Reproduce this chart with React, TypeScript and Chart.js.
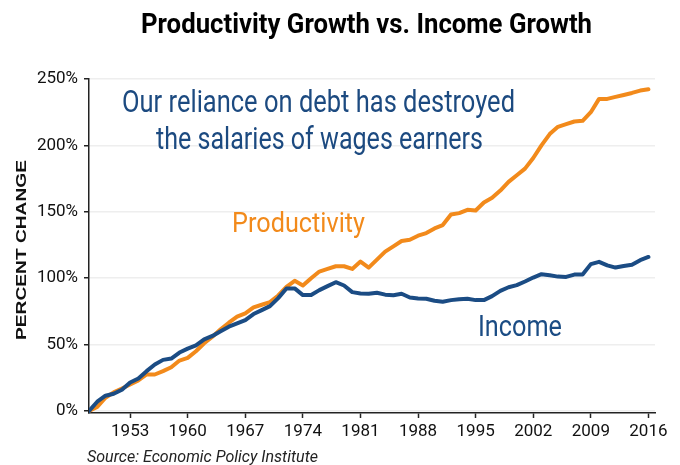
import React, { useEffect, useRef } from "react";
import { Chart, registerables } from "chart.js";

Chart.register(...registerables);

const years = [
  1948, 1949, 1950, 1951, 1952, 1953, 1954, 1955, 1956, 1957, 1958, 1959,
  1960, 1961, 1962, 1963, 1964, 1965, 1966, 1967, 1968, 1969, 1970, 1971,
  1972, 1973, 1974, 1975, 1976, 1977, 1978, 1979, 1980, 1981, 1982, 1983,
  1984, 1985, 1986, 1987, 1988, 1989, 1990, 1991, 1992, 1993, 1994, 1995,
  1996, 1997, 1998, 1999, 2000, 2001, 2002, 2003, 2004, 2005, 2006, 2007,
  2008, 2009, 2010, 2011, 2012, 2013, 2014, 2015, 2016,
];

const productivity = [
  0, 3, 10, 14, 17, 20, 23, 27.5, 27.5, 30, 33, 38,
  40, 45, 51, 56, 61.5, 66.5, 71, 73.5, 78, 80, 82, 87,
  93.5, 98, 94.5, 100, 105, 107, 109, 109, 107, 112.5, 108, 114,
  120, 124, 128, 129, 132, 134, 137.5, 140, 148, 149, 151.5, 151,
  157, 160.5, 166, 172.5, 177.5, 182.5, 190.5, 200, 208.5, 214, 216, 218,
  218.5, 225, 235, 235, 236.5, 238, 239.5, 241.3, 242.3,
];

const income = [
  0, 7, 11.5, 13, 16, 21.5, 24.5, 30, 35, 38.5, 39.5, 44,
  47, 49.5, 54, 56.5, 60, 63.5, 66, 68.5, 73, 76, 79, 85,
  92.3, 92.3, 87.3, 87.3, 91, 94, 97, 94.5, 89.5, 88.5, 88.3, 89,
  87.6, 87.2, 88.3, 85.5, 84.8, 84.5, 83, 82.3, 83.5, 84.2, 84.5, 83.5,
  83.5, 86.5, 90.5, 93.2, 94.8, 97.5, 100.5, 103, 102.2, 101.2, 101, 102.7,
  102.8, 110.6, 112.3, 109.7, 108, 109.2, 110.2, 113.6, 116,
];

const xTicks = [1953, 1960, 1967, 1974, 1981, 1988, 1995, 2002, 2009, 2016];
const yTicks = [0, 50, 100, 150, 200, 250];

const titleText = "Productivity Growth vs. Income Growth";
const noteLines = ["Our reliance on debt has destroyed", "the salaries of wages earners"];
const sourceText = "Source: Economic Policy Institute";
const yAxisTitle = "PERCENT CHANGE";

const ORANGE = "#F28A1B";
const BLUE = "#1B4C84";
const NOTE_BLUE = "#1C4A80";

function fitText(
  ctx: CanvasRenderingContext2D,
  text: string,
  font: string,
  color: string,
  left: number,
  baseline: number,
  width: number
) {
  ctx.save();
  ctx.font = font;
  ctx.fillStyle = color;
  ctx.textAlign = "left";
  ctx.textBaseline = "alphabetic";
  const w = ctx.measureText(text).width;
  const sx = width / w;
  ctx.translate(left, baseline);
  ctx.scale(sx, 1);
  ctx.fillText(text, 0, 0);
  ctx.restore();
}

const textPlugin = {
  id: "texts",
  afterDraw(chart: any) {
    const ctx: CanvasRenderingContext2D = chart.ctx;
    fitText(ctx, titleText, "bold 28px Roboto", "#000000", 141, 33, 451);
    fitText(ctx, noteLines[0], "32px Roboto", NOTE_BLUE, 122, 112, 393);
    fitText(ctx, noteLines[1], "32px Roboto", NOTE_BLUE, 156, 149, 327);
    fitText(ctx, "Productivity", "28px Roboto", ORANGE, 232, 232, 133);
    fitText(ctx, "Income", "29px Roboto", BLUE, 478, 336, 84);
    fitText(ctx, sourceText, "italic 17px Roboto", "#222222", 87, 462, 231);
    // rotated axis title
    ctx.save();
    ctx.font = "bold 15px 'Liberation Sans', Arial, sans-serif";
    ctx.fillStyle = "#111111";
    const w = ctx.measureText(yAxisTitle).width;
    ctx.translate(26, 250);
    ctx.rotate(-Math.PI / 2);
    ctx.scale(180 / w, 1);
    ctx.textAlign = "center";
    ctx.textBaseline = "alphabetic";
    ctx.fillText(yAxisTitle, 0, 0);
    ctx.restore();
  },
};

export default function App() {
  const canvasRef = useRef<HTMLCanvasElement | null>(null);

  useEffect(() => {
    if (!canvasRef.current) return;
    const chart = new Chart(canvasRef.current, {
      type: "line",
      data: {
        datasets: [
          {
            label: "Income",
            data: years.map((y, i) => ({ x: y, y: income[i] })),
            borderColor: BLUE,
            borderWidth: 4,
            pointRadius: 0,
            tension: 0,
            borderJoinStyle: "round",
            borderCapStyle: "round",
            order: 0,
          },
          {
            label: "Productivity",
            data: years.map((y, i) => ({ x: y, y: productivity[i] })),
            borderColor: ORANGE,
            borderWidth: 4,
            pointRadius: 0,
            tension: 0,
            borderJoinStyle: "round",
            borderCapStyle: "round",
            order: 1,
          },
        ],
      },
      options: {
        animation: false,
        responsive: true,
        maintainAspectRatio: false,
        layout: { padding: { top: 79, right: 25, left: 0, bottom: 0 } },
        plugins: {
          legend: { display: false },
          title: { display: false },
          tooltip: { enabled: false },
        },
        scales: {
          x: {
            type: "linear",
            min: 1948,
            max: 2016.8,
            afterBuildTicks: (scale: any) => {
              scale.ticks = xTicks.map((v) => ({ value: v }));
            },
            afterFit: (scale: any) => {
              scale.height = 52;
            },
            grid: {
              drawOnChartArea: false,
              drawTicks: true,
              tickLength: 5,
              tickColor: "#222222",
              tickWidth: 1.5,
            },
            border: { display: true, color: "#222222", width: 1.5 },
            ticks: {
              padding: 4,
              color: "#111111",
              font: { family: "Roboto", size: 17 },
              maxRotation: 0,
              autoSkip: false,
              callback: (v: any) => String(v),
            },
          },
          y: {
            type: "linear",
            min: -1.5,
            max: 250,
            afterBuildTicks: (scale: any) => {
              scale.ticks = yTicks.map((v) => ({ value: v }));
            },
            afterFit: (scale: any) => {
              scale.width = 89;
            },
            grid: {
              color: "#EEEEEE",
              lineWidth: 1.5,
              drawTicks: true,
              tickLength: 5,
              tickColor: "#222222",
              tickWidth: 1.5,
            },
            border: { display: true, color: "#222222", width: 1.5 },
            ticks: {
              padding: 6,
              color: "#111111",
              font: { family: "Roboto", size: 17 },
              autoSkip: false,
              callback: (v: any) => v + "%",
            },
          },
        },
      },
      plugins: [textPlugin],
    } as any);
    return () => chart.destroy();
  }, []);

  return (
    <div style={{ position: "absolute", left: 0, top: 0, width: 680, height: 465 }}>
      <canvas ref={canvasRef} />
    </div>
  );
}
